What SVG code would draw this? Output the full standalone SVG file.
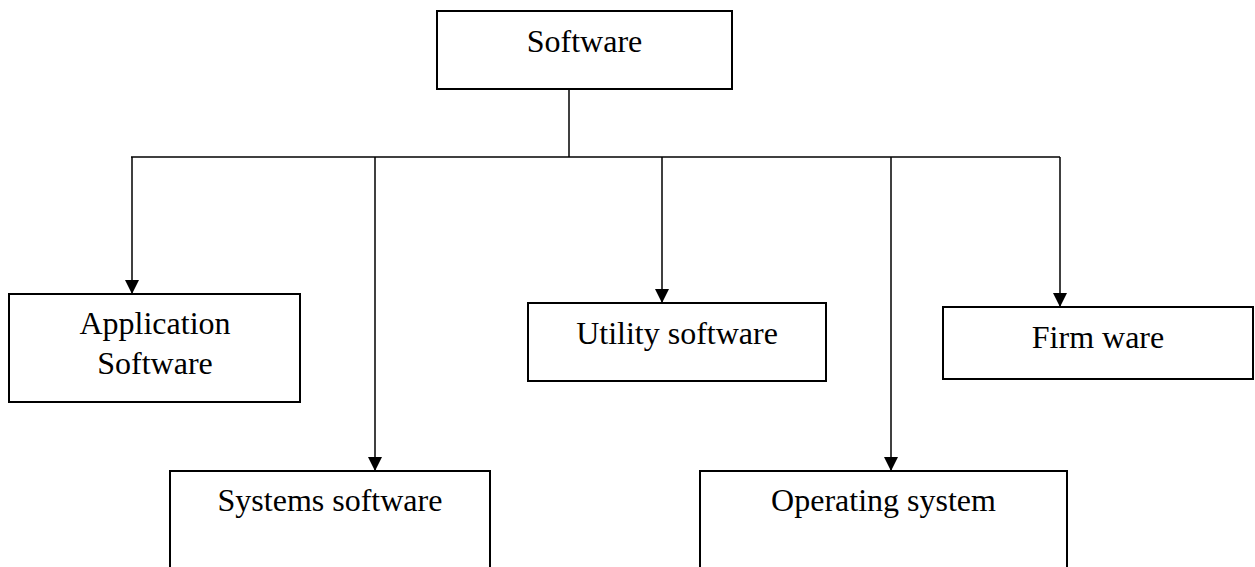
<svg xmlns="http://www.w3.org/2000/svg" width="1255" height="567" viewBox="0 0 1255 567">
<style>
.box{fill:#fff;stroke:#000;stroke-width:2}
.lbl{font-family:"Liberation Serif","Times New Roman",serif;font-size:32px;fill:#000;text-anchor:middle}
.con{stroke:#000;stroke-width:1.5;fill:none}
</style>
<defs>
<marker id="arr" markerUnits="userSpaceOnUse" markerWidth="15" markerHeight="15" viewBox="0 0 15 15" refX="14" refY="7" orient="auto">
<path d="M0,0 L14,7 L0,14 Z" fill="#000"/>
</marker>
</defs>
<rect width="1255" height="567" fill="#fff"/>
<g id="connectors">
<line class="con" x1="569" y1="89" x2="569" y2="157"/>
<line class="con" x1="131" y1="157" x2="1060" y2="157"/>
<path class="con" d="M132,157 V294" marker-end="url(#arr)"/>
<path class="con" d="M375,157 V471" marker-end="url(#arr)"/>
<path class="con" d="M662,157 V303" marker-end="url(#arr)"/>
<path class="con" d="M891,157 V471" marker-end="url(#arr)"/>
<path class="con" d="M1060,157 V307" marker-end="url(#arr)"/>
</g>
<g id="software">
<rect class="box" x="437" y="11" width="295" height="78"/>
<text class="lbl" x="584.5" y="52">Software</text>
</g>
<g id="application">
<rect class="box" x="9" y="294" width="291" height="108"/>
<text class="lbl" x="155" y="334">Application</text>
<text class="lbl" x="155" y="374">Software</text>
</g>
<g id="utility">
<rect class="box" x="528" y="303" width="298" height="78"/>
<text class="lbl" x="677" y="344">Utility software</text>
</g>
<g id="firmware">
<rect class="box" x="943" y="307" width="310" height="72"/>
<text class="lbl" x="1098" y="348">Firm ware</text>
</g>
<g id="systems">
<rect class="box" x="170" y="471" width="320" height="110"/>
<text class="lbl" x="330" y="511">Systems software</text>
</g>
<g id="operating">
<rect class="box" x="700" y="471" width="367" height="110"/>
<text class="lbl" x="883.5" y="511">Operating system</text>
</g>
</svg>
